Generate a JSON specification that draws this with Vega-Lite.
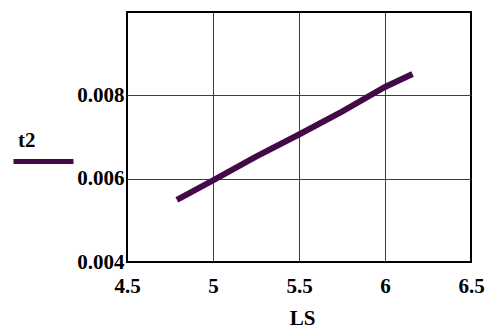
{
  "$schema": "https://vega.github.io/schema/vega-lite/v6.json",
  "width": 344,
  "height": 250,
  "autosize": {"type": "none"},
  "padding": {"left": 127, "top": 12, "right": 18, "bottom": 67},
  "background": "white",
  "config": {
    "view": {"stroke": "black", "strokeWidth": 2},
    "font": "serif"
  },
  "data": {
    "values": [
      {"LS": 4.79, "t2": 0.00549, "series": "t2"},
      {"LS": 5.0, "t2": 0.00596, "series": "t2"},
      {"LS": 5.25, "t2": 0.00653, "series": "t2"},
      {"LS": 5.5, "t2": 0.00706, "series": "t2"},
      {"LS": 5.75, "t2": 0.00761, "series": "t2"},
      {"LS": 6.0, "t2": 0.00820, "series": "t2"},
      {"LS": 6.16, "t2": 0.00851, "series": "t2"}
    ]
  },
  "mark": {"type": "line", "strokeWidth": 6, "strokeCap": "butt", "clip": true},
  "encoding": {
    "x": {
      "field": "LS",
      "type": "quantitative",
      "scale": {"domain": [4.5, 6.5], "nice": false, "zero": false},
      "axis": {
        "values": [4.5, 5, 5.5, 6, 6.5],
        "labelExpr": "'' + datum.value",
        "ticks": false,
        "domain": false,
        "grid": true,
        "gridColor": {"condition": {"test": "datum.value == 4.5 || datum.value == 6.5", "value": "black"}, "value": "#6a1a7c"},
        "gridWidth": 1,
        "gridOpacity": 1,
        "labelPadding": 13,
        "labelDx": 3,
        "labelFont": "Liberation Serif, DejaVu Serif, serif",
        "labelFontSize": 21,
        "labelFontWeight": "bold",
        "labelColor": "black",
        "labelFlush": false,
        "labelOverlap": false,
        "title": "LS",
        "titleFont": "Liberation Serif, DejaVu Serif, serif",
        "titleFontSize": 21,
        "titleFontWeight": "bold",
        "titleColor": "black",
        "titleBaseline": "alphabetic",
        "titleY": 62,
        "titleX": 175
      }
    },
    "y": {
      "field": "t2",
      "type": "quantitative",
      "scale": {"domain": [0.004, 0.01], "nice": false, "zero": false},
      "axis": {
        "values": [0.004, 0.006, 0.008],
        "labelExpr": "format(datum.value, '.3f')",
        "ticks": false,
        "domain": false,
        "grid": true,
        "gridColor": {"condition": {"test": "datum.value < 0.005", "value": "black"}, "value": "#6a1a7c"},
        "gridWidth": 1,
        "gridOpacity": 1,
        "labelPadding": 3,
        "labelDy": 3,
        "labelBaseline": "middle",
        "labelFont": "Liberation Serif, DejaVu Serif, serif",
        "labelFontSize": 21,
        "labelFontWeight": "bold",
        "labelColor": "black",
        "labelFlush": false,
        "labelOverlap": false,
        "title": null
      }
    },
    "color": {
      "field": "series",
      "type": "nominal",
      "scale": {"range": ["#440a48"]},
      "legend": {
        "orient": "none",
        "legendX": -109,
        "legendY": 118,
        "padding": 0,
        "title": "t2",
        "titleFont": "Liberation Serif, DejaVu Serif, serif",
        "titleFontSize": 21,
        "titleFontWeight": "bold",
        "titleColor": "black",
        "titlePadding": -2,
        "symbolType": "M-1.7,0H4.3",
        "symbolSize": 400,
        "symbolStrokeWidth": 5,
        "labelExpr": "''",
        "labelFontSize": 1
      }
    }
  }
}
